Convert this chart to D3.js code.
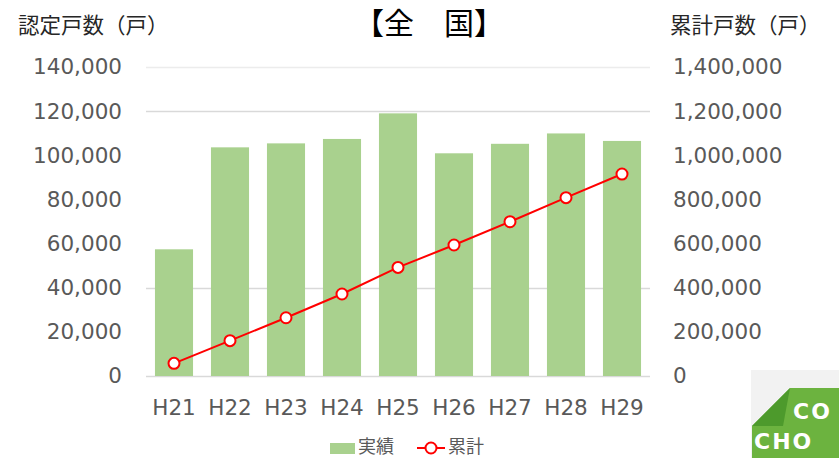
<!DOCTYPE html>
<html>
<head>
<meta charset="utf-8">
<script src="https://cdn.jsdelivr.net/npm/d3@7"></script>
<style>
  html, body { margin: 0; padding: 0; background: #fff; }
  svg { display: block; }
  .tick text { font-family: "DejaVu Sans", Verdana, sans-serif; fill: #595959; }
</style>
</head>
<body>
<div id="chart"></div>
<script>
// Data
var years = ["H21", "H22", "H23", "H24", "H25", "H26", "H27", "H28", "H29"];
var annual = [57400, 103600, 105400, 107400, 119000, 100900, 105200, 109900, 106500];
var cumulative = [57500, 160000, 264000, 371500, 492000, 593500, 699000, 808000, 915000];
var leftTicks = [0, 20000, 40000, 60000, 80000, 100000, 120000, 140000];
var rightTicks = [0, 200000, 400000, 600000, 800000, 1000000, 1200000, 1400000];
var gridVisible = [0, 40000, 120000, 140000];

var svgWidth = 839;
var svgHeight = 458;

var plot = { left: 146, right: 650, top: 67, bottom: 376 };

var svg = d3.select("#chart")
    .append("svg")
    .attr("width", svgWidth)
    .attr("height", svgHeight);

var xScale = d3.scaleBand()
    .domain(years)
    .range([plot.left, plot.right])
    .paddingInner(0.32)
    .paddingOuter(0.16);

var yScale = d3.scaleLinear()
    .domain([0, 140000])
    .range([plot.bottom, plot.top]);

var y2Scale = d3.scaleLinear()
    .domain([0, 1400000])
    .range([plot.bottom, plot.top]);

// Gridlines (only the ones that show in the picture)
svg.append("g").selectAll("line")
    .data(gridVisible)
    .enter()
    .append("line")
    .attr("x1", plot.left)
    .attr("x2", plot.right)
    .attr("y1", d => Math.round(yScale(d)) + 0.5)
    .attr("y2", d => Math.round(yScale(d)) + 0.5)
    .attr("stroke", d => d == 140000 ? "#ececec" : "#d9d9d9")
    .attr("stroke-width", 1.5);

// Bars
svg.append("g").selectAll("rect")
    .data(annual)
    .enter()
    .append("rect")
    .attr("x", (d, i) => xScale(years[i]))
    .attr("y", d => yScale(d))
    .attr("width", xScale.bandwidth())
    .attr("height", d => plot.bottom - yScale(d))
    .attr("fill", "#a9d18e");

// Cumulative line
var line = d3.line()
    .x((d, i) => xScale(years[i]) + xScale.bandwidth() / 2)
    .y(d => y2Scale(d));

svg.append("path")
    .datum(cumulative)
    .attr("d", line)
    .attr("fill", "none")
    .attr("stroke", "#ff0000")
    .attr("stroke-width", 2);

svg.append("g").selectAll("circle")
    .data(cumulative)
    .enter()
    .append("circle")
    .attr("cx", (d, i) => xScale(years[i]) + xScale.bandwidth() / 2)
    .attr("cy", d => y2Scale(d))
    .attr("r", 5.5)
    .attr("fill", "#fff")
    .attr("stroke", "#ff0000")
    .attr("stroke-width", 2);

// Axes
var leftAxis = svg.append("g")
    .attr("transform", `translate(${plot.left}, 0)`)
    .call(d3.axisLeft(yScale).tickValues(leftTicks).tickFormat(d3.format(",")).tickSize(0).tickPadding(24));

var rightAxis = svg.append("g")
    .attr("transform", `translate(${plot.right}, 0)`)
    .call(d3.axisRight(y2Scale).tickValues(rightTicks).tickFormat(d3.format(",")).tickSize(0).tickPadding(23));

var bottomAxis = svg.append("g")
    .attr("transform", `translate(0, ${plot.bottom})`)
    .call(d3.axisBottom(xScale).tickSize(0).tickPadding(24));

[leftAxis, rightAxis, bottomAxis].forEach(function(g) {
    g.select(".domain").remove();
    g.selectAll("text").attr("font-size", "21.5px");
});

// Titles
var cjk = "'Noto Sans CJK JP', 'Noto Sans CJK SC', sans-serif";

svg.append("text")
    .attr("x", 18)
    .attr("y", 33)
    .attr("font-family", cjk)
    .attr("font-size", "21.5px")
    .attr("fill", "#262626")
    .text("認定戸数（戸）");

svg.append("text")
    .attr("x", 670)
    .attr("y", 33)
    .attr("font-family", cjk)
    .attr("font-size", "21.5px")
    .attr("fill", "#262626")
    .text("累計戸数（戸）");

svg.append("text")
    .attr("x", 429)
    .attr("y", 34)
    .attr("text-anchor", "middle")
    .attr("font-family", cjk)
    .attr("font-size", "30px")
    .attr("fill", "#000")
    .text("【全　国】");

// Legend
var legend = svg.append("g");

legend.append("rect")
    .attr("x", 330)
    .attr("y", 443)
    .attr("width", 25)
    .attr("height", 11)
    .attr("fill", "#a9d18e");

legend.append("text")
    .attr("x", 358)
    .attr("y", 453)
    .attr("font-family", cjk)
    .attr("font-size", "18px")
    .attr("fill", "#595959")
    .text("実績");

legend.append("line")
    .attr("x1", 417)
    .attr("x2", 445)
    .attr("y1", 448)
    .attr("y2", 448)
    .attr("stroke", "#ff0000")
    .attr("stroke-width", 2);

legend.append("circle")
    .attr("cx", 431)
    .attr("cy", 448)
    .attr("r", 5.5)
    .attr("fill", "#fff")
    .attr("stroke", "#ff0000")
    .attr("stroke-width", 2);

legend.append("text")
    .attr("x", 448)
    .attr("y", 453)
    .attr("font-family", cjk)
    .attr("font-size", "18px")
    .attr("fill", "#595959")
    .text("累計");

// Corner logo (cut off by the picture edge)
var logo = svg.append("g");

logo.append("rect")
    .attr("x", 751)
    .attr("y", 370)
    .attr("width", 88)
    .attr("height", 88)
    .attr("fill", "#f2f2f2");

logo.append("path")
    .attr("d", "M790,388 L839,388 L839,458 L752,458 L752,426 Z")
    .attr("fill", "#6cb33f");

logo.append("path")
    .attr("d", "M790,388 L783,426 L752,426 Z")
    .attr("fill", "#4d9a2c");

logo.append("text")
    .attr("x", 793)
    .attr("y", 419)
    .attr("font-family", "'DejaVu Sans', sans-serif")
    .attr("font-weight", "bold")
    .attr("font-size", "22px")
    .attr("letter-spacing", "2px")
    .attr("fill", "#fff")
    .text("CO");

logo.append("text")
    .attr("x", 754)
    .attr("y", 449)
    .attr("font-family", "'DejaVu Sans', sans-serif")
    .attr("font-weight", "bold")
    .attr("font-size", "22px")
    .attr("letter-spacing", "2px")
    .attr("fill", "#fff")
    .text("CHO");
</script>
</body>
</html>
